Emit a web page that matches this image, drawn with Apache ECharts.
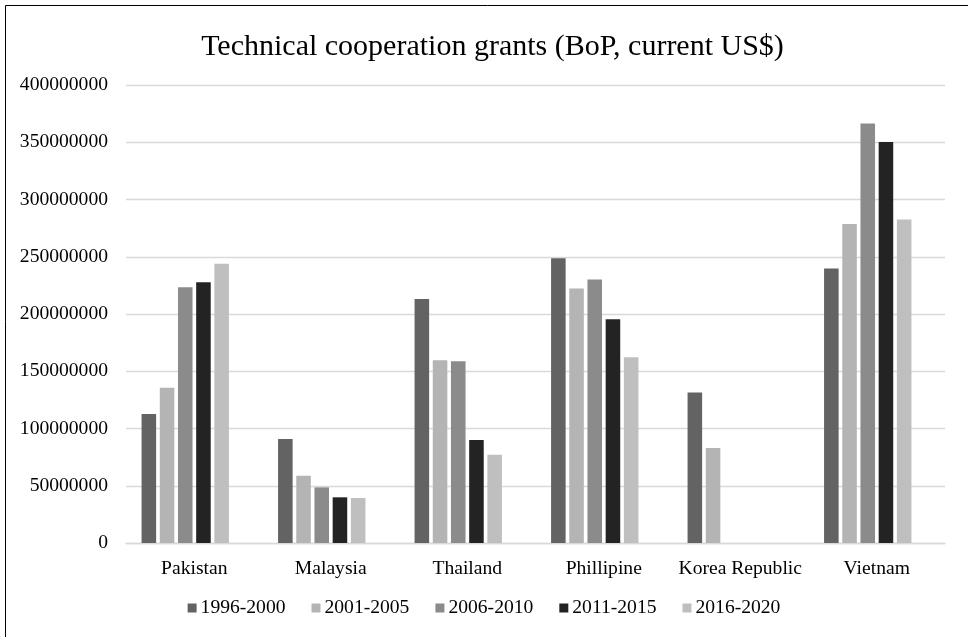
<!DOCTYPE html>
<html>
<head>
<meta charset="utf-8">
<script src="https://cdn.jsdelivr.net/npm/echarts@6/dist/echarts.min.js"></script>
<style>
html,body{margin:0;padding:0;background:#fff;}
#c{width:968px;height:637px;}
</style>
</head>
<body>
<div id="c"></div>
<script>
var titleText = 'Technical cooperation grants (BoP, current US$)';
var categories = ['Pakistan', 'Malaysia', 'Thailand', 'Phillipine', 'Korea Republic', 'Vietnam'];
var seriesNames = ['1996-2000', '2001-2005', '2006-2010', '2011-2015', '2016-2020'];
var s1996_2000 = [112600000, 90800000, 213000000, 248700000, 131500000, 239700000];
var s2001_2005 = [135600000, 58800000, 159700000, 222300000, 82900000, 278700000];
var s2006_2010 = [223400000, 48600000, 158800000, 230100000, null, 366300000];
var s2011_2015 = [227800000, 39900000, 89900000, 195500000, null, 350200000];
var s2016_2020 = [243800000, 39300000, 77100000, 162300000, null, 282500000];
var yTicks = [0, 50000000, 100000000, 150000000, 200000000, 250000000, 300000000, 350000000, 400000000];

var seriesData = [s1996_2000, s2001_2005, s2006_2010, s2011_2015, s2016_2020];
var colors = ['#636363', '#b4b4b4', '#8b8b8b', '#232323', '#bfbfbf'];
var FONT = '"Liberation Serif", "Times New Roman", serif';
var FS = 19.6;
var yMin = yTicks[0], yMax = yTicks[yTicks.length - 1], yStep = yTicks[1] - yTicks[0];

var chart = echarts.init(document.getElementById('c'), null, {renderer: 'canvas'});
var option = {
  animation: false,
  backgroundColor: '#fff',
  color: colors,
  graphic: [{
    type: 'rect',
    shape: {x: 5.5, y: 5.5, width: 1000, height: 700},
    style: {fill: 'none', stroke: '#000', lineWidth: 1},
    silent: true
  }],
  title: {
    text: titleText,
    left: 487.5,
    textAlign: 'center',
    top: 27,
    textStyle: {fontFamily: FONT, fontSize: 30, fontWeight: 'normal', color: '#000'}
  },
  legend: {
    data: seriesNames,
    bottom: 14,
    left: 'center',
    itemWidth: 9,
    itemHeight: 9,
    itemGap: 26,
    icon: 'rect',
    textStyle: {fontFamily: FONT, fontSize: FS, color: '#000', padding: [0, 0, 0, -1]}
  },
  grid: [
    {left: 126, right: 23, top: 85, bottom: 94, containLabel: false},
    {left: 117, right: 32, top: 85, bottom: 94, containLabel: false}
  ],
  xAxis: [{
    type: 'category',
    gridIndex: 0,
    data: categories,
    axisLine: {show: true, lineStyle: {color: '#d9d9d9', width: 1.3}},
    axisTick: {show: false},
    axisLabel: {fontFamily: FONT, fontSize: FS, color: '#000', margin: 16, interval: 0}
  }, {
    type: 'category',
    gridIndex: 1,
    data: categories,
    show: false
  }],
  yAxis: [{
    type: 'value',
    gridIndex: 0,
    min: yMin, max: yMax, interval: yStep,
    axisLine: {show: false},
    axisTick: {show: false},
    splitLine: {lineStyle: {color: '#d9d9d9', width: 1.3}},
    axisLabel: {fontFamily: FONT, fontSize: FS, color: '#000', margin: 18,
      formatter: function (v) { return String(v); }}
  }, {
    type: 'value',
    gridIndex: 1,
    min: yMin, max: yMax, interval: yStep,
    show: false,
    splitLine: {show: false}
  }],
  series: seriesNames.map(function (n, i) {
    return {
      name: n,
      type: 'bar',
      xAxisIndex: 1,
      yAxisIndex: 1,
      data: seriesData[i],
      barGap: '25%',
      barCategoryGap: '36%',
      itemStyle: {color: colors[i]}
    };
  })
};
chart.setOption(option);
</script>
</body>
</html>
